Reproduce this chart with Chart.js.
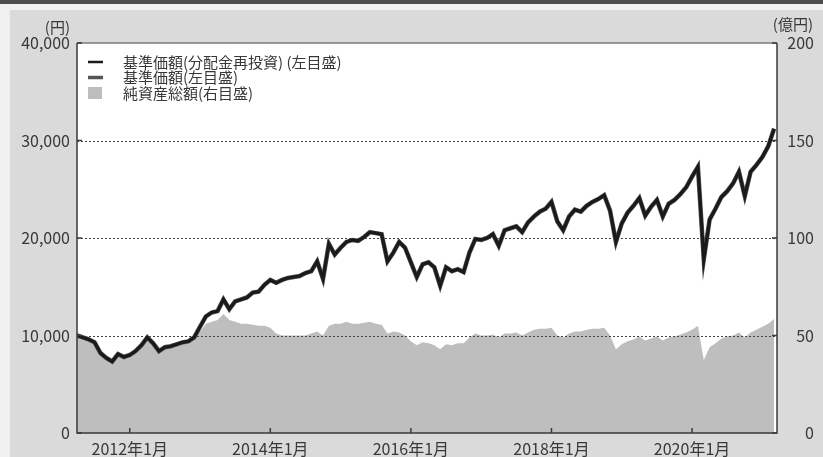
<!DOCTYPE html>
<html lang="ja">
<head>
<meta charset="utf-8">
<title>基準価額・純資産の推移</title>
<script src="https://cdn.jsdelivr.net/npm/chart.js@4.4.1/dist/chart.umd.min.js"></script>
<style>
  html, body { margin: 0; padding: 0; background: #f0f0f0; }
  #wrap { position: relative; width: 823px; height: 457px; overflow: hidden; }
  #topbar { position: absolute; left: 0; top: 0; width: 823px; height: 4px; background: #4b4b4b; }
  canvas { position: absolute; left: 0; top: 0; }
</style>
</head>
<body>
<div id="wrap">
  <canvas id="chart" width="823" height="457"></canvas>
  <div id="topbar"></div>
</div>
<script>
// 月次データ（2011年4月〜2021年3月）
var START_YEAR = 2011;
var START_MONTH = 4;

// 基準価額（分配金再投資）（円）
var NAV_REINVEST = [
  10000, 9800, 9600, 9300, 8200, 7700, 7330, 8100, 7800, 8000, 8400, 9000,
  9800, 9200, 8400, 8800, 8900, 9100, 9300, 9400, 9800, 10900, 11950, 12360,
  12500, 13700, 12700, 13500, 13700, 13900, 14400, 14500, 15200, 15700, 15400, 15700,
  15900, 16000, 16100, 16400, 16600, 17600, 15800, 19400, 18300, 19000, 19600, 19800,
  19700, 20100, 20600, 20500, 20400, 17600, 18500, 19600, 19000, 17500, 16000, 17300,
  17500, 17000, 15100, 17000, 16600, 16800, 16500, 18500, 19900, 19800, 20000, 20400,
  19200, 20800, 21000, 21200, 20600, 21600, 22200, 22700, 23000, 23700, 21700, 20800,
  22200, 22900, 22700, 23300, 23700, 24000, 24400, 22800, 19600, 21500, 22600, 23300,
  24100, 22300, 23200, 23900, 22200, 23500, 23900, 24500, 25200, 26300, 27300, 17800,
  21900, 23000, 24200, 24800, 25600, 26800, 24300, 26800, 27500, 28300, 29400, 31200
];

// 基準価額（円）※分配実績なしのため同水準
var NAV = NAV_REINVEST.slice();

// 純資産総額（億円）
var NET_ASSETS = [
  49, 48.5, 47.5, 46, 40.5, 38, 36.5, 40, 38.5, 39.5, 41.5, 44.5,
  48.5, 45.5, 41.5, 43.5, 44, 45, 46, 46.5, 48.5, 52, 56, 57,
  58, 61, 58, 57, 56, 56, 55.5, 55, 55, 54, 51, 50,
  50, 50, 50, 50, 51, 52, 50, 55, 56, 56, 57, 56,
  56, 56.5, 57, 56, 55.5, 51, 52, 51.5, 50, 47, 45, 46.5,
  46, 45, 43, 45.5, 45, 46, 46, 49, 51, 50, 50, 50.5,
  49, 51, 51, 51.5, 50, 51.5, 53, 53.5, 53.5, 54, 50, 49,
  51, 52, 52, 53, 53.5, 53.5, 54, 50, 43, 45.5, 47, 48,
  49.5, 47.5, 48.5, 49.5, 47.5, 49, 49.5, 50.5, 51.5, 53, 55, 37.5,
  44, 46, 48.5, 49.5, 50, 51.5, 49, 51.5, 53, 54.5, 56, 58.5
];

var SERIES_LABELS = ['基準価額(分配金再投資) (左目盛)', '基準価額(左目盛)', '純資産総額(右目盛)'];

// 目盛（開始月からの経過月数）
var TICK_MONTHS = [9, 33, 57, 81, 105];
var TICK_LABELS = ['2012年1月', '2014年1月', '2016年1月', '2018年1月', '2020年1月'];

var FONT = '"Noto Sans CJK JP", "Noto Sans", sans-serif';
var TEXT = '#383838';

function toPoints(arr) {
  return arr.map(function(v, i) { return { x: i, y: v }; });
}

var frame = {
  id: 'frame',
  beforeDraw: function(chart) {
    var c = chart.ctx, a = chart.chartArea;
    c.save();
    c.fillStyle = '#dadada';
    c.fillRect(10, 10, chart.width - 10, chart.height - 10);
    c.fillStyle = '#ffffff';
    c.fillRect(a.left, a.top, a.right - a.left, a.bottom - a.top);
    c.restore();
  },
  afterDatasetDraw: function(chart, args) {
    if (args.index !== 2) return;
    // 点線グリッド（純資産の面の上、線の下）
    var c = chart.ctx, a = chart.chartArea, y = chart.scales.y;
    c.save();
    c.strokeStyle = '#444';
    c.lineWidth = 1;
    c.setLineDash([2, 2]);
    y.ticks.forEach(function(t) {
      if (t.value <= 0 || t.value >= 40000) return;
      var py = Math.round(y.getPixelForValue(t.value)) + 0.5;
      c.beginPath();
      c.moveTo(a.left, py);
      c.lineTo(a.right, py);
      c.stroke();
    });
    c.restore();
  },
  afterDraw: function(chart) {
    var c = chart.ctx, a = chart.chartArea;
    var y = chart.scales.y, x = chart.scales.x;
    c.save();
    // 枠
    c.lineWidth = 1.5;
    c.strokeStyle = '#7a7a7a';
    c.beginPath();
    c.moveTo(a.left, a.top);
    c.lineTo(a.right, a.top);
    c.stroke();
    c.strokeStyle = '#3a3a3a';
    c.beginPath();
    c.moveTo(a.left, a.top);
    c.lineTo(a.left, a.bottom);
    c.lineTo(a.right, a.bottom);
    c.lineTo(a.right, a.top);
    c.stroke();
    // 内向き目盛
    c.lineWidth = 1.5;
    y.ticks.forEach(function(t) {
      var py = y.getPixelForValue(t.value);
      c.beginPath();
      c.moveTo(a.left, py); c.lineTo(a.left + 5, py);
      c.moveTo(a.right, py); c.lineTo(a.right - 5, py);
      c.stroke();
    });
    TICK_MONTHS.forEach(function(m) {
      var px = x.getPixelForValue(m);
      c.beginPath();
      c.moveTo(px, a.bottom); c.lineTo(px, a.bottom - 5);
      c.stroke();
    });
    // 単位
    c.fillStyle = TEXT;
    c.font = '15px ' + FONT;
    c.textBaseline = 'middle';
    c.textAlign = 'right';
    c.fillText('(円)', 70, 27);
    c.fillText('(億円)', 813, 24);
    // 凡例
    var lx = a.left + 11, tx = a.left + 46;
    var rows = [a.top + 19, a.top + 34.5, a.top + 50];
    c.textAlign = 'left';
    c.lineWidth = 2.5;
    c.strokeStyle = '#1a1a1a';
    c.beginPath(); c.moveTo(lx, rows[0]); c.lineTo(lx + 15, rows[0]); c.stroke();
    c.lineWidth = 3.5;
    c.strokeStyle = '#555';
    c.beginPath(); c.moveTo(lx, rows[1]); c.lineTo(lx + 15, rows[1]); c.stroke();
    c.fillStyle = '#bdbdbd';
    c.fillRect(lx, rows[2] - 6, 14, 12);
    c.fillStyle = TEXT;
    SERIES_LABELS.forEach(function(s, i) { c.fillText(s, tx, rows[i]); });
    c.restore();
  }
};

new Chart(document.getElementById('chart'), {
  type: 'line',
  data: {
    datasets: [{
      label: SERIES_LABELS[0],
      data: toPoints(NAV_REINVEST),
      borderColor: '#1a1a1a',
      borderWidth: 3.2,
      pointRadius: 0,
      tension: 0,
      yAxisID: 'y'
    }, {
      label: SERIES_LABELS[1],
      data: toPoints(NAV),
      borderColor: '#555555',
      borderWidth: 4.5,
      pointRadius: 0,
      tension: 0,
      yAxisID: 'y'
    }, {
      label: SERIES_LABELS[2],
      data: toPoints(NET_ASSETS),
      borderWidth: 0,
      borderColor: 'rgba(0,0,0,0)',
      backgroundColor: '#bebebe',
      fill: 'origin',
      pointRadius: 0,
      tension: 0,
      yAxisID: 'y1'
    }]
  },
  options: {
    responsive: false,
    animation: false,
    layout: { padding: { top: 43, right: 9, bottom: 0, left: 0 } },
    plugins: {
      legend: { display: false },
      tooltip: { enabled: false }
    },
    scales: {
      x: {
        type: 'linear',
        min: 0,
        max: 119.5,
        afterBuildTicks: function(s) {
          s.ticks = TICK_MONTHS.map(function(v) { return { value: v }; });
        },
        afterFit: function(s) { s.height = 24; },
        grid: { display: false, drawTicks: false },
        border: { display: false },
        ticks: {
          autoSkip: false,
          maxRotation: 0,
          padding: 6,
          color: TEXT,
          font: { size: 16, family: FONT },
          callback: function(v) {
            var i = TICK_MONTHS.indexOf(v);
            return i >= 0 ? TICK_LABELS[i] : '';
          }
        }
      },
      y: {
        position: 'left',
        min: 0,
        max: 40000,
        afterFit: function(s) { s.width = 77; },
        grid: { display: false, drawTicks: false },
        border: { display: false },
        ticks: {
          stepSize: 10000,
          padding: 7,
          color: TEXT,
          font: { size: 16, family: FONT },
          callback: function(v) { return v.toLocaleString('en-US'); }
        }
      },
      y1: {
        position: 'right',
        min: 0,
        max: 200,
        afterFit: function(s) { s.width = 37; },
        grid: { display: false, drawTicks: false },
        border: { display: false },
        ticks: {
          stepSize: 50,
          crossAlign: 'far',
          color: TEXT,
          font: { size: 16, family: FONT }
        }
      }
    }
  },
  plugins: [frame]
});
</script>
</body>
</html>
